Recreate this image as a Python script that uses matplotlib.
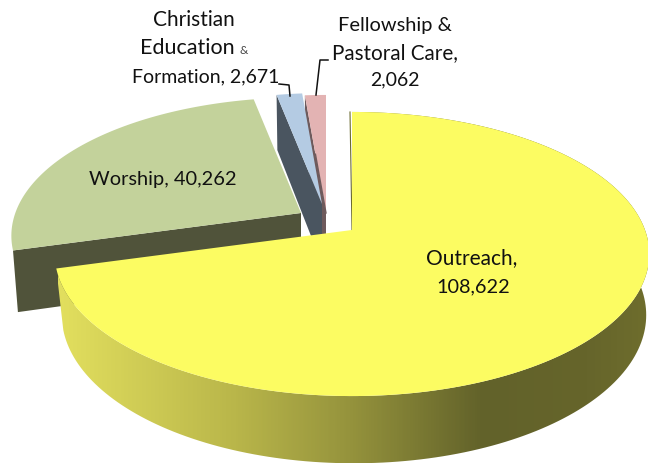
import numpy as np
import matplotlib
matplotlib.use("Agg")
import matplotlib.pyplot as plt
from matplotlib.colors import LinearSegmentedColormap
from matplotlib.patches import Polygon

plt.rcParams['font.family'] = ['Lato', 'DejaVu Sans']

# slices clockwise from 12 o'clock
names = ["Outreach", "Worship", "Christian Education & Formation", "Fellowship & Pastoral Care"]
values = [108622, 40262, 2671, 2062]
top_colors = ["#FCFC62", "#C3D29B", "#B4CBE3", "#E3B3B3"]
cut_colors = ["#6B6B30", "#50533A", "#4A5560", "#6E5A5C"]

# where each exploded slice's point lands on the picture, and its radius
apex_x = [352, 301, 322, 326]
apex_y = [230, 213, 204, 213]
radius = [1.0, 0.975, 0.93, 1.0]

K = 0.169
TOP_A, TOP_B = 293, 138
BOT_A, BOT_B, BOT_DROP, BOT_SHIFT = 288, 144, 60, 2


def project(deg, a, b, r=1.0):
    # perspective of the flat disc, angle clockwise from top
    t = np.radians(deg)
    x, y = r * np.sin(t), r * np.cos(t)
    w = 1 + K * y
    return a * x / w, -b * y / w


def arc(start, end, a, b, r=1.0):
    return project(np.linspace(start, end, 200), a, b, r)


fig = plt.figure(figsize=(6.48, 4.63), dpi=100)
ax = fig.add_axes([0, 0, 1, 1])
ax.set_xlim(0, 648)
ax.set_ylim(463, 0)
ax.axis("off")

edges = np.concatenate([[0], np.cumsum(values)]) / sum(values) * 360

# back slices first, outreach goes over them
cut_z = {1: 2, 2: 4, 3: 3}
for i in [1, 2, 3]:
    px, py, r = apex_x[i], apex_y[i], radius[i]
    # cut face on the start edge of the slice
    tx, ty = project(edges[i], TOP_A, TOP_B, r)
    bx, by = project(edges[i], BOT_A, BOT_B, r)
    cut = [(px, py), (px + tx, py + ty), (px + bx, py + by + BOT_DROP), (px, py + BOT_DROP)]
    ax.add_patch(Polygon(cut, closed=True, fc=cut_colors[i], ec="none", zorder=cut_z[i]))
    xs, ys = arc(edges[i], edges[i + 1], TOP_A, TOP_B, r)
    pts = np.column_stack([np.r_[px, px + xs], np.r_[py, py + ys]])
    ax.add_patch(Polygon(pts, closed=True, fc=top_colors[i], ec="none", zorder=5 + i * 0.1))

# thin dark line down the left side of the pink slice
tx, ty = project(edges[3], TOP_A, TOP_B)
ax.plot([apex_x[3] + 0.5 * tx, apex_x[3]], [apex_y[3] + 0.5 * ty, apex_y[3]], color=cut_colors[3], lw=1, zorder=5.5)

# outreach rim with the shaded band
cx, cy = apex_x[0], apex_y[0]
tx, ty = arc(edges[0], edges[1], TOP_A, TOP_B)
bx, by = arc(edges[0], edges[1], BOT_A, BOT_B)
rim = np.column_stack([np.r_[cx + tx, (cx + BOT_SHIFT + bx)[::-1]], np.r_[cy + ty, (cy + by + BOT_DROP)[::-1]]])
rim_patch = Polygon(rim, closed=True, fc="none", ec="none", zorder=7)
ax.add_patch(rim_patch)
cmap = LinearSegmentedColormap.from_list("rim", [
    (0.0, "#E2DF5E"), (0.3, "#B9B64A"), (0.5, "#94923C"),
    (0.72, "#62622A"), (0.9, "#66652B"), (1.0, "#6E6D2D")])
im = ax.imshow(np.linspace(0, 1, 400).reshape(1, -1), extent=(58, 648, 463, 100),
               cmap=cmap, aspect="auto", zorder=7)
im.set_clip_path(rim_patch)
ax.set_xlim(0, 648)
ax.set_ylim(463, 0)

pts = np.column_stack([np.r_[cx, cx + tx], np.r_[cy, cy + ty]])
ax.add_patch(Polygon(pts, closed=True, fc=top_colors[0], ec="none", zorder=8))
ax.plot([cx - 2, cx], [112, cy], color=cut_colors[0], lw=0.8, zorder=7.5)

# labels
txt = dict(color="#111111", ha="center", va="center", zorder=10)
ax.text(472, 258, "Outreach,", fontsize=15, **txt)
ax.text(473, 287, "108,622", fontsize=14.3, **txt)
ax.text(163, 180, "Worship, 40,262", fontsize=14.4, **txt)
ax.text(194, 20, "Christian", fontsize=15, **txt)
ax.text(187, 48, "Education", fontsize=15.5, **txt)
ax.text(244, 51, "&", color="#444444", fontsize=8.5, ha="center", va="center", zorder=10)
ax.text(206, 77, "Formation, 2,671", fontsize=14, **txt)
ax.text(395, 26, "Fellowship &", fontsize=14.4, **txt)
ax.text(395, 53, "Pastoral Care,", fontsize=14.9, **txt)
ax.text(395, 80, "2,062", fontsize=14, **txt)

ax.plot([279, 289, 290], [84, 85, 96], color="#111111", lw=1.1, zorder=9)
ax.plot([328, 320, 316], [60, 60, 95], color="#111111", lw=1.1, zorder=9)

fig.savefig("out.png", dpi=100)
